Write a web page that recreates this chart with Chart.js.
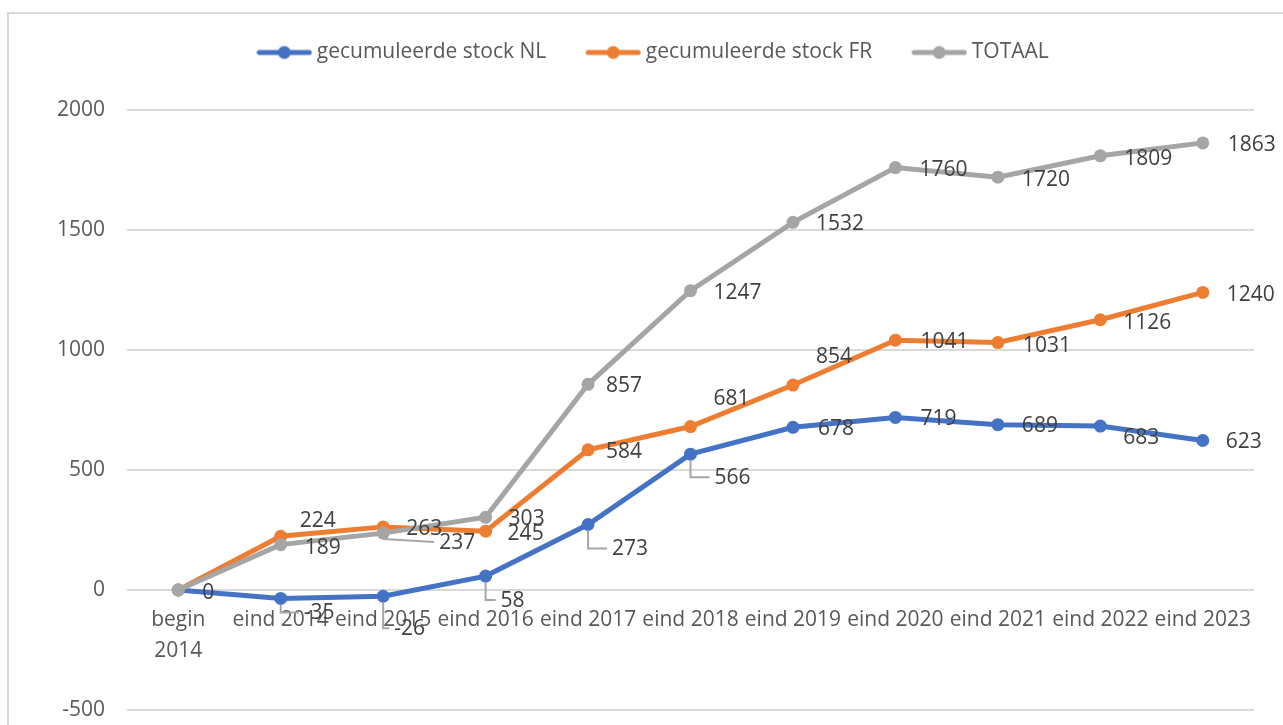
<!DOCTYPE html>
<html><head><meta charset="utf-8">
<script src="https://cdn.jsdelivr.net/npm/chart.js@4/dist/chart.umd.min.js"></script>
<style>
html,body{margin:0;padding:0;background:#fff;overflow:hidden;width:1283px;height:725px}
#frame{position:absolute;left:7px;top:12px;width:1400px;height:800px;border-left:2px solid #d9d9d9;border-top:2px solid #d9d9d9}
#wrap{position:absolute;left:0;top:0;width:1283px;height:725px}
</style></head><body>
<div id="frame"></div>
<div id="wrap"><canvas id="c" width="1283" height="725"></canvas></div>
<script>
// ---- data ----
const categories = [["begin","2014"],"eind 2014","eind 2015","eind 2016","eind 2017","eind 2018","eind 2019","eind 2020","eind 2021","eind 2022","eind 2023"];
const seriesNames = ["gecumuleerde stock NL","gecumuleerde stock FR","TOTAAL"];
const stockNL = [0,-35,-26,58,273,566,678,719,689,683,623];
const stockFR = [0,224,263,245,584,681,854,1041,1031,1126,1240];
const totaal  = [0,189,237,303,857,1247,1532,1760,1720,1809,1863];
const yTicks = [-500,0,500,1000,1500,2000];

// ---- styling ----
const colors = ["#4472C4","#ED7D31","#A5A5A5"];
const FONT = "'Open Sans', 'Liberation Sans', sans-serif";
const FSIZE = 21;
// label offsets (dx to text left, dy to text middle), relative to the point; null = no label
const nlLabelOff  = [[24,2],[23,14],[11,32],[15,24],[24,24],[24,23],[25,1],[25,1],[24,0],[23,11],[23,1]];
const frLabelOff  = [null,[19,-16],[23,1],[22,2],[18,1],[23,-29],[23,-29],[25,1],[25,2],[23,2],[24,2]];
const totLabelOff = [null,[24,2],[56,9],[23,1],[18,1],[23,1],[23,1],[24,1],[24,2],[24,2],[25,1]];
// leader lines: 0 none, 1 elbow, 2 direct
const nlLeader  = [0,1,1,1,1,1,0,0,0,0,0];
const frLeader  = [0,0,0,0,0,0,0,0,0,0,0];
const totLeader = [0,0,2,0,0,0,0,0,0,0,0];
const labelOffs = [nlLabelOff, frLabelOff, totLabelOff];
const leaders = [nlLeader, frLeader, totLeader];

function legendIcon(color){
  const cv = document.createElement('canvas');
  cv.width = 56; cv.height = 16;
  const g = cv.getContext('2d');
  g.strokeStyle = color; g.lineWidth = 5; g.lineCap = 'round';
  g.beginPath(); g.moveTo(3,8); g.lineTo(53,8); g.stroke();
  g.fillStyle = color; g.beginPath(); g.arc(28,8,6.5,0,Math.PI*2); g.fill();
  return cv;
}
const icons = colors.map(legendIcon);

const LAYOUT_TOP = -3;
const PLOT_TOP = 110;
const LEGEND_SHIFT = 11;
const legendSpace = {
  id: 'legendSpace',
  afterInit(chart){
    const lg = chart.legend;
    if (lg && !lg._patched) {
      const f = lg.fit;
      lg.fit = function(){ f.call(this); this.height = PLOT_TOP - LAYOUT_TOP; };
      lg._patched = true;
    }
  },
  afterLayout(chart){
    const lg = chart.legend;
    if (lg) { lg.left += LEGEND_SHIFT; lg.right += LEGEND_SHIFT; }
  }
};

const dataLabels = {
  id: 'dataLabels',
  afterDatasetsDraw(chart){
    const ctx = chart.ctx;
    ctx.save();
    ctx.font = FSIZE + "px " + FONT;
    ctx.textAlign = 'left';
    ctx.textBaseline = 'middle';
    chart.data.datasets.forEach((ds, di) => {
      const meta = chart.getDatasetMeta(di);
      meta.data.forEach((pt, i) => {
        const off = labelOffs[di][i];
        if (!off) return;
        const lx = pt.x + off[0], ly = pt.y + off[1];
        const ld = leaders[di][i];
        if (ld) {
          ctx.strokeStyle = '#a6a6a6'; ctx.lineWidth = 2;
          ctx.beginPath();
          ctx.moveTo(pt.x, pt.y + 6);
          if (ld === 1) { ctx.lineTo(pt.x, ly); ctx.lineTo(lx - 5, ly); }
          else { ctx.lineTo(lx - 5, ly); }
          ctx.stroke();
        }
        ctx.fillStyle = '#404040';
        ctx.fillText(String(ds.data[i]), lx, ly + 1);
      });
    });
    ctx.restore();
  }
};

const seriesData = [stockNL, stockFR, totaal];
new Chart(document.getElementById('c'), {
  type: 'line',
  data: {
    labels: categories,
    datasets: seriesData.map((d, i) => ({
      label: seriesNames[i],
      data: d,
      borderColor: colors[i],
      backgroundColor: colors[i],
      pointBackgroundColor: colors[i],
      pointBorderWidth: 0,
      pointRadius: 6.5,
      borderWidth: 5,
      tension: 0,
      order: 3 - i
    }))
  },
  options: {
    responsive: false,
    animation: false,
    events: [],
    layout: { padding: { top: LAYOUT_TOP, left: 35, right: 29, bottom: 15 } },
    plugins: {
      tooltip: { enabled: false },
      legend: {
        position: 'top',
        labels: {
          usePointStyle: true,
          pointStyleWidth: 44,
          boxHeight: 16,
          padding: 45,
          color: '#595959',
          font: { family: FONT, size: FSIZE },
          generateLabels: (chart) => seriesNames.map((n, i) => ({
            text: n, pointStyle: icons[i], fillStyle: colors[i], strokeStyle: colors[i],
            lineWidth: 0, hidden: false, datasetIndex: i, fontColor: '#595959'
          }))
        }
      }
    },
    scales: {
      x: {
        type: 'category',
        position: { y: 0 },
        offset: true,
        grid: { display: false, drawTicks: false },
        border: { display: false },
        ticks: { autoSkip: false, maxRotation: 0, minRotation: 0, padding: 15, color: '#595959', font: { family: FONT, size: FSIZE, lineHeight: 1.45 } }
      },
      y: {
        min: yTicks[0], max: yTicks[yTicks.length-1],
        afterBuildTicks: (ax) => { ax.ticks = yTicks.map(v => ({ value: v })); },
        afterFit: (s) => { s.paddingTop = 0; s.paddingBottom = 0; },
        grid: { color: '#d9d9d9', lineWidth: 2, drawTicks: false },
        border: { display: false },
        ticks: { padding: 22, color: '#595959', font: { family: FONT, size: FSIZE }, callback: (v) => String(v) }
      }
    }
  },
  plugins: [legendSpace, dataLabels]
});
</script>
</body></html>
